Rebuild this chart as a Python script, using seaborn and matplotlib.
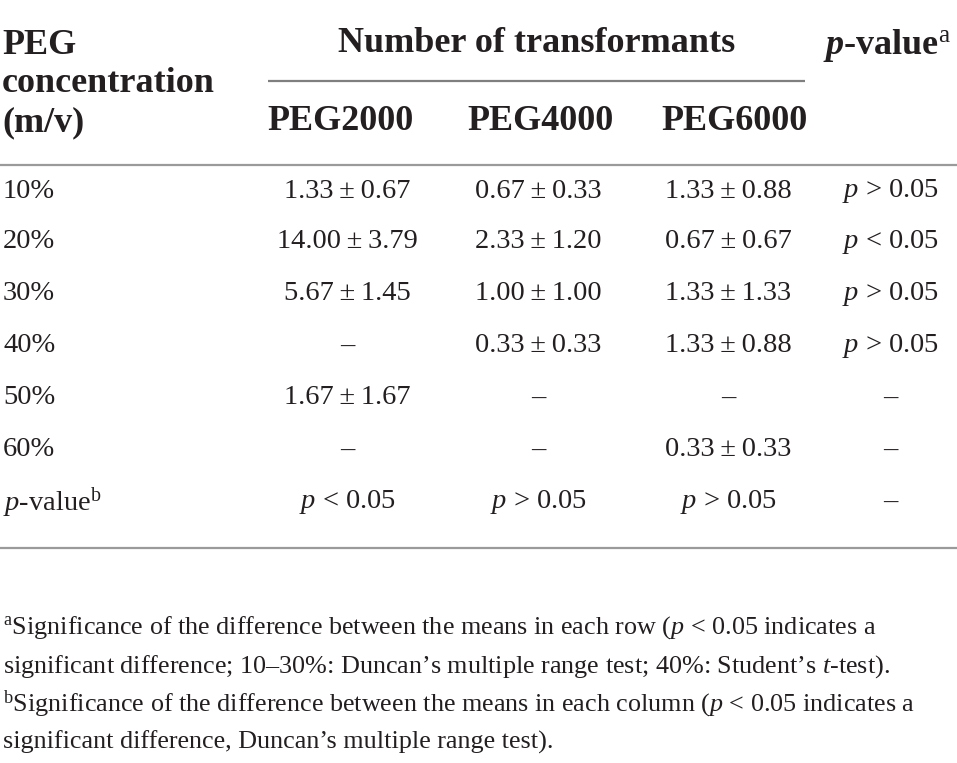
import matplotlib
matplotlib.use("Agg")
import matplotlib.pyplot as plt
import seaborn as sns

# table content
pm = "\u2009±\u2009"
conc = ["10%", "20%", "30%", "40%", "50%", "60%"]
peg2000 = ["1.33" + pm + "0.67", "14.00" + pm + "3.79", "5.67" + pm + "1.45", "–", "1.67" + pm + "1.67", "–"]
peg4000 = ["0.67" + pm + "0.33", "2.33" + pm + "1.20", "1.00" + pm + "1.00", "0.33" + pm + "0.33", "–", "–"]
peg6000 = ["1.33" + pm + "0.88", "0.67" + pm + "0.67", "1.33" + pm + "1.33", "1.33" + pm + "0.88", "–", "0.33" + pm + "0.33"]
row_p = ["$p$ > 0.05", "$p$ < 0.05", "$p$ > 0.05", "$p$ > 0.05", "–", "–"]
col_p = ["$p$ < 0.05", "$p$ > 0.05", "$p$ > 0.05", "–"]
col_names = ["PEG2000", "PEG4000", "PEG6000"]
footnotes = [
    "$^{\\mathrm{a}}$Significance of the difference between the means in each row ($p$ < 0.05 indicates a",
    "significant difference; 10–30%: Duncan’s multiple range test; 40%: Student’s $t$-test).",
    "$^{\\mathrm{b}}$Significance of the difference between the means in each column ($p$ < 0.05 indicates a",
    "significant difference, Duncan’s multiple range test).",
]

sns.set_theme(style="white")
plt.rcParams["font.family"] = ["Liberation Serif", "DejaVu Serif"]
plt.rcParams["mathtext.fontset"] = "custom"
plt.rcParams["mathtext.rm"] = "Liberation Serif"
plt.rcParams["mathtext.it"] = "Liberation Serif:italic"
plt.rcParams["mathtext.bf"] = "Liberation Serif:bold"
plt.rcParams["mathtext.bfit"] = "Liberation Serif:bold:italic"

ink = "#231f20"
rule = "#9a9a9a"

fig = plt.figure(figsize=(9.57, 7.63), dpi=100)
ax = fig.add_axes([0, 0, 1, 1])
ax.set_xlim(0, 957)
ax.set_ylim(763, 0)
ax.axis("off")

hdr = dict(fontsize=26, fontweight="bold", color=ink, va="center")
body = dict(fontsize=20.5, color=ink, va="center")

# header
for txt, y in zip(["PEG", "concentration", "(m/v)"], [46, 84, 123]):
    ax.text(2, y, txt, ha="left", **hdr)
ax.text(537, 43, "Number of transformants", ha="center", **hdr)
ax.text(887, 46, "$\\mathbfit{p}$-value$^{\\mathrm{a}}$", ha="center", **hdr)
for x, name in zip([341, 540, 734], col_names):
    ax.text(x, 121, name, ha="center", **hdr)

ax.plot([268, 805], [81, 81], color="#7f7f7f", lw=1.6, solid_capstyle="butt")
ax.plot([0, 957], [165, 165], color=rule, lw=1.6)
ax.plot([0, 957], [548, 548], color=rule, lw=1.6)

# body rows
col_x = [347, 538, 728]
row_y = [191, 242, 294, 346, 398, 450]
for i, y in enumerate(row_y):
    ax.text(3, y, conc[i], ha="left", **body)
    for x, col in zip(col_x, [peg2000, peg4000, peg6000]):
        ax.text(x, y, col[i], ha="center", **body)
    ax.text(890, y, row_p[i], ha="center", **body)

ax.text(3, 502, "$p$-value$^{\\mathrm{b}}$", ha="left", **body)
for x, v in zip(col_x + [890], col_p):
    ax.text(x, 502, v, ha="center", **body)

# footnotes
for txt, y in zip(footnotes, [628, 667, 704, 742]):
    ax.text(3, y, txt, ha="left", fontsize=18.8, color=ink, va="center")

fig.savefig("out.png", dpi=100)
